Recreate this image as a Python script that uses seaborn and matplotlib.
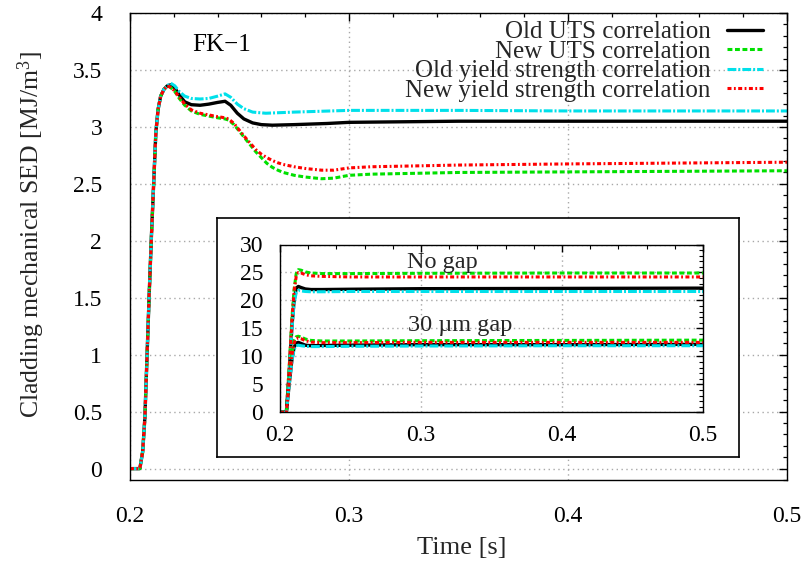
import numpy as np
import pandas as pd
import matplotlib
matplotlib.use("Agg")
import matplotlib.pyplot as plt
import seaborn as sns
from matplotlib.ticker import MultipleLocator, FuncFormatter

sns.set_theme(style="white")
plt.rcParams["font.family"] = ["Liberation Serif", "DejaVu Serif"]
plt.rcParams["mathtext.fontset"] = "custom"
plt.rcParams["mathtext.rm"] = "Liberation Serif"
plt.rcParams["mathtext.it"] = "Liberation Serif:italic"

# ---------------- data ----------------
series_labels = ["Old UTS correlation", "New UTS correlation",
                 "Old yield strength correlation", "New yield strength correlation"]

rise_t = [0.2000, 0.2045, 0.2058, 0.2068, 0.2078, 0.2088, 0.2098, 0.2108, 0.2118,
          0.2128, 0.2140, 0.2155, 0.2170]
rise_v = [0.0, 0.0, 0.15, 0.45, 1.0, 1.55, 2.05, 2.5, 2.95, 3.15, 3.27, 3.33, 3.36]

old_uts_t = [0.2187, 0.2205, 0.2225, 0.2250, 0.2280, 0.2320, 0.2360, 0.2400, 0.2434,
             0.2460, 0.2490, 0.2520, 0.2560, 0.2600, 0.2650, 0.2750, 0.2900, 0.3000,
             0.3500, 0.4000, 0.5000]
old_uts_v = [3.37, 3.34, 3.28, 3.22, 3.195, 3.19, 3.20, 3.215, 3.225,
             3.19, 3.12, 3.07, 3.035, 3.02, 3.015, 3.02, 3.03, 3.04,
             3.05, 3.05, 3.05]

new_uts_t = [0.2183, 0.2205, 0.2225, 0.2250, 0.2280, 0.2320, 0.2360, 0.2400, 0.2434,
             0.2450, 0.2475, 0.2500, 0.2525, 0.2550, 0.2575, 0.2600, 0.2625, 0.2650,
             0.2675, 0.2700, 0.2750, 0.2800, 0.2875, 0.2930, 0.3000, 0.3100, 0.3500,
             0.4000, 0.5000]
new_uts_v = [3.35, 3.31, 3.25, 3.19, 3.14, 3.11, 3.095, 3.08, 3.07,
             3.06, 3.02, 2.96, 2.90, 2.84, 2.78, 2.73, 2.68, 2.645,
             2.62, 2.60, 2.575, 2.56, 2.545, 2.55, 2.575, 2.585, 2.60,
             2.605, 2.615]

old_ys_t = [0.2185, 0.2205, 0.2225, 0.2250, 0.2280, 0.2320, 0.2360, 0.2400, 0.2434,
            0.2460, 0.2490, 0.2520, 0.2560, 0.2620, 0.2750, 0.3000, 0.3500, 0.4000,
            0.5000]
old_ys_v = [3.385, 3.36, 3.31, 3.27, 3.25, 3.245, 3.25, 3.27, 3.29,
            3.26, 3.20, 3.16, 3.13, 3.12, 3.13, 3.145, 3.145, 3.14,
            3.14]

new_ys_t = [0.2183, 0.2205, 0.2225, 0.2250, 0.2280, 0.2320, 0.2360, 0.2400, 0.2434,
            0.2450, 0.2475, 0.2500, 0.2525, 0.2550, 0.2575, 0.2600, 0.2625, 0.2650,
            0.2675, 0.2700, 0.2750, 0.2800, 0.2875, 0.2930, 0.3000, 0.3100, 0.3500,
            0.4000, 0.5000]
new_ys_v = [3.35, 3.315, 3.26, 3.20, 3.15, 3.12, 3.105, 3.09, 3.08,
            3.07, 3.03, 2.97, 2.91, 2.855, 2.80, 2.76, 2.73, 2.705,
            2.685, 2.67, 2.65, 2.635, 2.62, 2.62, 2.64, 2.65, 2.665,
            2.675, 2.69]

# inset (no gap / 30 um gap)
inset_t = [0.2000, 0.2045, 0.2065, 0.2085, 0.2100, 0.2115, 0.2130, 0.2150, 0.2180,
           0.2220, 0.2300, 0.2500, 0.3000, 0.4000, 0.5000]
nogap_old_uts = [0, 0, 7.0, 15.5, 20.0, 22.2, 22.5, 22.3, 22.05, 21.95, 21.95, 22.0, 22.1, 22.15, 22.2]
nogap_new_uts = [0, 0, 8.0, 17.0, 22.0, 24.8, 25.5, 25.4, 25.1, 24.9, 24.8, 24.8, 24.85, 24.9, 24.9]
nogap_old_ys = [0, 0, 6.8, 15.0, 19.5, 21.4, 21.8, 21.7, 21.6, 21.55, 21.55, 21.6, 21.6, 21.6, 21.6]
nogap_new_ys = [0, 0, 7.8, 16.6, 21.6, 24.3, 25.0, 24.9, 24.6, 24.4, 24.3, 24.2, 24.2, 24.2, 24.2]
gap_old_uts = [0, 0, 5.0, 9.5, 11.6, 12.4, 12.5, 12.3, 12.0, 11.9, 11.95, 12.0, 12.1, 12.1, 12.15]
gap_new_uts = [0, 0, 5.5, 10.5, 12.8, 13.5, 13.6, 13.45, 13.1, 12.85, 12.75, 12.75, 12.8, 12.85, 12.9]
gap_old_ys = [0, 0, 4.8, 9.2, 11.3, 11.9, 12.0, 11.9, 11.8, 11.75, 11.75, 11.8, 11.85, 11.9, 11.9]
gap_new_ys = [0, 0, 5.3, 10.2, 12.4, 13.1, 13.3, 13.15, 12.8, 12.55, 12.45, 12.45, 12.5, 12.5, 12.5]

xticks = [0.2, 0.3, 0.4, 0.5]
main_yticks = [0, 0.5, 1, 1.5, 2, 2.5, 3, 3.5, 4]
inset_yticks = [0, 5, 10, 15, 20, 25, 30]

# ---------------- style ----------------
colors = ["#000000", "#00e000", "#00e0ea", "#ff0000"]
lstyles = ["-", (0, (1.6, 0.85)), (0, (2.9, 0.65, 0.65, 0.65)), (0, (1.3, 0.8, 0.6, 0.8))]
lwidths = [2.4, 2.2, 2.2, 2.2]

def full(t, v):
    return list(rise_t) + list(t), list(rise_v) + list(v)

main_curves = [full(old_uts_t, old_uts_v), full(new_uts_t, new_uts_v),
               full(old_ys_t, old_ys_v), full(new_ys_t, new_ys_v)]

W, H = 810, 563
fig = plt.figure(figsize=(W / 100, H / 100), dpi=100)

def px_axes(l, t, r, b):
    return [l / W, 1 - b / H, (r - l) / W, (b - t) / H]

ax = fig.add_axes(px_axes(130, 13, 787, 480))
fmt = FuncFormatter(lambda v, p: "%g" % v)

for (t, v), lab, c, ls, lw in zip(main_curves, series_labels, colors, lstyles, lwidths):
    df = pd.DataFrame({"t": t, "v": v})
    sns.lineplot(data=df, x="t", y="v", ax=ax, color=c, linestyle=ls, linewidth=lw,
                 label=lab, estimator=None, sort=False)

ax.set_xlim(0.2, 0.5)
ax.set_ylim(-0.1, 4)
ax.set_xticks(xticks)
ax.set_yticks(main_yticks)
ax.xaxis.set_major_formatter(fmt)
ax.yaxis.set_major_formatter(fmt)
ax.xaxis.set_minor_locator(MultipleLocator(0.02))
ax.yaxis.set_minor_locator(MultipleLocator(0.1))
ax.tick_params(which="both", direction="in", top=True, right=True, colors="black")
ax.tick_params(which="major", length=6, width=1.0, labelsize=17)
ax.tick_params(axis="x", which="major", pad=19)
ax.tick_params(axis="y", which="major", pad=20)
ax.tick_params(which="minor", length=3.2, width=0.9)
ax.grid(True, which="major", color="#a8a8a8", linestyle=(0, (1, 2.5)), linewidth=1.0)
for s in ax.spines.values():
    s.set_color("black")
    s.set_linewidth(1.0)
ax.set_xlabel("Time [s]", fontsize=19)
ax.set_ylabel("Cladding mechanical SED [MJ/m$^{3}$]", fontsize=18.5)
ax.xaxis.set_label_coords(0.505, -0.122)
ax.yaxis.set_label_coords(-0.126, 0.525)
ax.text(0.242, 3.72, "FK\u22121", fontsize=18, ha="center", va="center", color="black")

leg = ax.legend(loc="upper right", bbox_to_anchor=(0.9635, 0.983), frameon=False,
                markerfirst=False, fontsize=18, handlelength=1.45, handletextpad=0.65,
                labelspacing=-0.12, borderpad=0, borderaxespad=0)
for txt in leg.get_texts():
    txt.set_ha("right")

# inset frame
fr = fig.add_axes(px_axes(217, 218, 739, 457))
fr.set_xticks([])
fr.set_yticks([])
fr.set_facecolor("white")
for s in fr.spines.values():
    s.set_color("black")
    s.set_linewidth(1.2)
    s.set_visible(True)

ins = fig.add_axes(px_axes(280, 244.5, 703, 412.3))
inset_sets = [nogap_old_uts, nogap_new_uts, nogap_old_ys, nogap_new_ys,
              gap_old_uts, gap_new_uts, gap_old_ys, gap_new_ys]
for i, vals in enumerate(inset_sets):
    k = i % 4
    df = pd.DataFrame({"t": inset_t, "v": vals})
    sns.lineplot(data=df, x="t", y="v", ax=ins, color=colors[k], linestyle=lstyles[k],
                 linewidth=lwidths[k], estimator=None, sort=False, legend=False)
ins.set_xlim(0.2, 0.5)
ins.set_ylim(0, 30)
ins.set_xticks(xticks)
ins.set_yticks(inset_yticks)
ins.xaxis.set_major_formatter(fmt)
ins.yaxis.set_major_formatter(fmt)
ins.xaxis.set_minor_locator(MultipleLocator(0.02))
ins.yaxis.set_minor_locator(MultipleLocator(1))
ins.tick_params(which="both", direction="in", top=True, right=True, colors="black")
ins.tick_params(which="major", length=5, width=1.0, labelsize=17)
ins.tick_params(axis="x", which="major", pad=9)
ins.tick_params(axis="y", which="major", pad=12)
ins.tick_params(which="minor", length=3, width=0.8)
ins.grid(True, which="major", color="#a8a8a8", linestyle=(0, (1, 2.5)), linewidth=1.0)
for s in ins.spines.values():
    s.set_color("black")
    s.set_linewidth(1.0)
ins.set_xlabel("")
ins.set_ylabel("")
ins.text(0.3152, 26.7, "No gap", fontsize=17.5, ha="center", va="center")
ins.text(0.328, 15.5, "30 \u00b5m gap", fontsize=17.5, ha="center", va="center")

fig.savefig("out.png", dpi=100)
